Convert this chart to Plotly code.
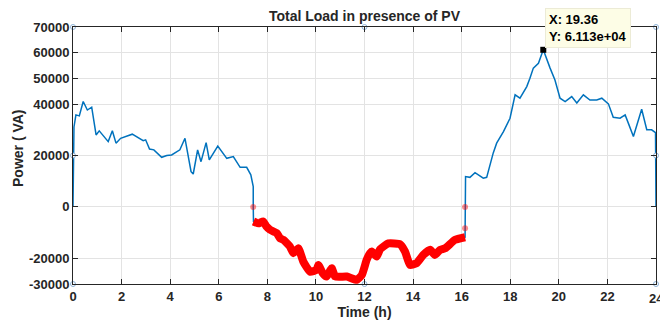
import plotly.graph_objects as go

# === Data ===
# load curve before the PV surplus (hours, VA)
t_morning = [0.00, 0.04, 0.12, 0.26, 0.42, 0.59, 0.77, 0.95, 1.08, 1.45, 1.62, 1.77, 1.96,
             2.44, 2.89, 2.99, 3.15, 3.33, 3.65, 3.86, 4.06, 4.40, 4.61, 4.75, 4.86, 4.95,
             5.13, 5.27, 5.48, 5.61, 5.96, 6.33, 6.60, 6.88, 7.15, 7.32, 7.42, 7.42]
p_morning = [0, 31100, 35800, 35400, 41000, 37700, 38800, 28000, 29600, 25400, 29600, 24800, 26700,
             28300, 25800, 26100, 22500, 22200, 19300, 20000, 20200, 22200, 26700, 18900, 13700, 12800,
             22200, 17600, 25000, 18300, 23700, 18900, 19600, 15400, 15400, 12500, 7900, 0]

# negative part (red, PV surplus)
t_neg = [7.43, 7.63, 7.83, 7.97, 8.11, 8.39, 8.52, 8.66, 8.93, 9.07, 9.28, 9.48, 9.76,
         10.03, 10.10, 10.28, 10.44, 10.65, 10.79, 11.27, 11.68, 11.89, 12.09, 12.23,
         12.30, 12.50, 12.64, 12.98, 13.46, 13.67, 13.87, 14.15, 14.42, 14.70, 14.90,
         15.11, 15.32, 15.73, 16.14]
p_neg = [-5700, -6400, -5700, -7700, -8900, -10200, -12200, -12800, -15400, -18000, -16100,
         -21300, -25200, -24500, -22600, -25800, -27100, -23900, -27100, -27100, -28400,
         -26500, -20600, -18000, -17400, -19300, -16500, -14200, -14500, -17400, -22600,
         -21900, -18700, -16700, -18700, -16700, -16100, -12800, -11800]

# load curve after the PV surplus
t_evening = [16.16, 16.34, 16.55, 16.89, 17.03, 17.22, 17.30, 17.44, 17.72, 17.99,
             18.20, 18.40, 18.68, 18.81, 18.95, 19.16, 19.36, 19.64, 19.84, 20.05, 20.26,
             20.53, 20.74, 21.01, 21.28, 21.56, 21.77, 22.04, 22.24, 22.52, 22.73, 22.86,
             23.07, 23.41, 23.62, 23.82, 23.98, 24.00]
p_evening = [11800, 11500, 13300, 11200, 11500, 19000, 21000, 24800, 29300, 34500,
             43600, 42300, 46800, 50100, 54000, 55900, 61130, 54000, 49400, 42300, 41000,
             42900, 40400, 43600, 41600, 41600, 42300, 40100, 34900, 34500, 35800, 32600,
             27400, 38000, 30000, 30000, 28900, 0]

# faint points at the crossings
t_cross = [7.42, 16.14, 16.14]
p_cross = [0, 0, -8300]

# data tip
tip_t = 19.36
tip_p = 61130

# figure edit handles
t_handle = [0, 12, 24, 0, 24, 0, 12, 24]
p_handle = [70000, 70000, 70000, 20000, 20000, -30000, -30000, -30000]

y_ticks = [-30000, -20000, 0, 20000, 40000, 50000, 60000, 70000]
x_ticks = list(range(0, 25, 2))

t_full = t_morning + t_neg + t_evening
p_full = p_morning + p_neg + p_evening

# === Plot ===
FAM = "Arial, Liberation Sans, sans-serif"
tick_font = dict(family=FAM, size=13, color="#262626", weight="bold")
title_font = dict(family=FAM, size=14, color="#262626", weight="bold")

fig = go.Figure()
fig.add_trace(go.Scatter(x=t_full, y=p_full, mode="lines",
                         line=dict(color="#0072BD", width=1.5)))
fig.add_trace(go.Scatter(x=t_neg, y=p_neg, mode="lines",
                         line=dict(color="#ff0000", width=8, shape="spline", smoothing=0.4)))
fig.add_trace(go.Scatter(x=t_cross, y=p_cross, mode="markers",
                         marker=dict(color="rgba(255,0,0,0.45)", size=6)))
fig.add_trace(go.Scatter(x=[tip_t], y=[tip_p], mode="markers",
                         marker=dict(color="black", size=6, symbol="square")))
fig.add_trace(go.Scatter(x=t_handle, y=p_handle, mode="markers", cliponaxis=False,
                         marker=dict(color="white", size=5,
                                     line=dict(color="#8fb4d9", width=1))))

fig.add_annotation(x=tip_t, y=tip_p, xref="x", yref="y", showarrow=False,
                   text="X: 19.36<br>Y: 6.113e+04", align="left",
                   xanchor="left", yanchor="bottom", xshift=2, yshift=2,
                   font=dict(family=FAM, size=13, color="black", weight="bold"),
                   bgcolor="#fdfde6", bordercolor="#ecebd6", borderwidth=1, borderpad=3)

# y label placed like matlab (slightly above centre)
fig.add_annotation(xref="x domain", yref="y domain", x=(18 - 73) / 583, y=(284 - 148) / 257,
                   text="Power ( VA)", textangle=-90, showarrow=False,
                   xanchor="center", yanchor="middle", font=title_font)

# last x tick label sits on the page edge (plotly drops it), keep it as in the original
fig.add_annotation(xref="x", yref="y domain", x=x_ticks[-1], y=0, yanchor="top", yshift=-5,
                   text=str(x_ticks[-1]), showarrow=False, font=tick_font)

axis_common = dict(showline=True, linecolor="#262626", linewidth=1, mirror="ticks",
                   ticks="inside", ticklen=5, tickcolor="#262626", automargin=False,
                   showgrid=True, gridcolor="#e3e3e3", gridwidth=1, zeroline=False,
                   tickfont=tick_font)

fig.update_layout(
    width=660, height=324,
    margin=dict(l=73, r=4, t=27, b=40),
    paper_bgcolor="white", plot_bgcolor="white",
    showlegend=False,
    title=dict(text="Total Load in presence of PV", xref="paper", x=0.5, xanchor="center",
               y=1 - 16 / 324, yanchor="middle", font=title_font),
    xaxis=dict(range=[0, 24], tickvals=x_ticks,
               title=dict(text="Time (h)", font=title_font, standoff=2), **axis_common),
    yaxis=dict(range=[-30000, 70000], tickvals=y_ticks, ticktext=[str(v) for v in y_ticks],
               **axis_common),
)

# drop the default page margin so the figure sits at the window corner
fig.write_html("out.html", config={"displayModeBar": False},
               post_script="document.body.style.margin='0';")
